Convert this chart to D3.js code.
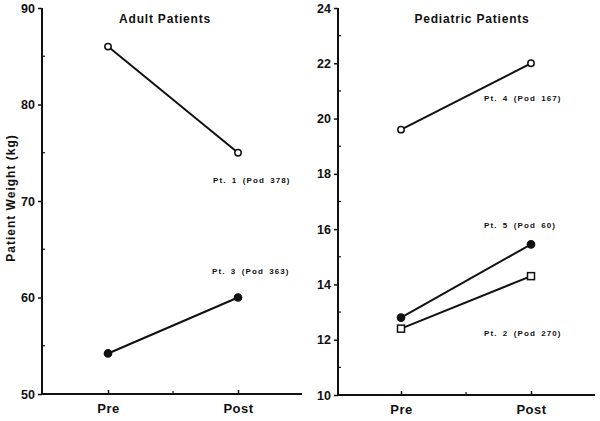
<!DOCTYPE html>
<html><head><meta charset="utf-8">
<script src="https://cdn.jsdelivr.net/npm/d3@7"></script>
<style>body{margin:0;background:#fff}text{font-family:"Liberation Sans",Arial,sans-serif;font-weight:bold;fill:#111}</style>
</head><body><svg id="c" width="600" height="421"></svg>
<script>
const categories = ["Pre", "Post"];
// Adult panel
const adultTicks = [50, 60, 70, 80, 90];
const adultPatients = ["Pt. 1 (Pod 378)", "Pt. 3 (Pod 363)"];
const adultValues = [[86, 75], [54.2, 60]];
const adultMarkers = ["openCircle", "filledCircle"];
// Pediatric panel
const pedTicks = [10, 12, 14, 16, 18, 20, 22, 24];
const pedPatients = ["Pt. 4 (Pod 167)", "Pt. 5 (Pod 60)", "Pt. 2 (Pod 270)"];
const pedValues = [[19.6, 22], [12.8, 15.45], [12.4, 14.3]];
const pedMarkers = ["openCircle", "filledCircle", "openSquare"];

const svg = d3.select("#c");

function panel(opt) {
  const g = svg.append("g");
  const x = d3.scalePoint().domain(categories).range([opt.x0 + opt.padL, opt.x0 + opt.padL + 130]);
  const y = d3.scaleLinear().domain(opt.domain).range([opt.bottom, opt.top]);
  const ya = d3.axisLeft(y).tickValues(opt.ticks).tickSize(4).tickPadding(3);
  const yg = g.append("g").attr("transform", `translate(${opt.x0},0)`).call(ya);
  yg.select(".domain").attr("stroke", "#111").attr("stroke-width", 2).attr("d", `M0,${opt.bottom}V${opt.top}`);
  yg.selectAll(".tick line").attr("stroke", "#111").attr("stroke-width", 1.5);
  yg.selectAll(".tick text").style("font-size", "12.5px").attr("fill", "#111");
  g.append("g").selectAll("line").data(opt.minor).join("line")
    .attr("x1", opt.x0).attr("x2", opt.x0 + 3).attr("y1", d => y(d)).attr("y2", d => y(d))
    .attr("stroke", "#111").attr("stroke-width", 1.2);
  const xa = d3.axisBottom(x).tickSize(-4).tickPadding(10);
  const xg = g.append("g").attr("transform", `translate(0,${opt.bottom})`).call(xa);
  xg.select(".domain").attr("stroke", "#111").attr("stroke-width", 2).attr("d", `M${opt.x0},0H${opt.x1}`);
  xg.selectAll(".tick line").attr("stroke", "#111").attr("stroke-width", 1.5);
  xg.selectAll(".tick text").style("font-size", "13px").style("letter-spacing", "0.5px").attr("fill", "#111");
  const mid = (x("Pre") + x("Post")) / 2;
  g.append("line").attr("x1", mid).attr("x2", mid).attr("y1", opt.bottom).attr("y2", opt.bottom - 3)
    .attr("stroke", "#111").attr("stroke-width", 1.2);
  g.append("text").attr("x", opt.titleX).attr("y", 23).attr("text-anchor", "middle")
    .style("font-size", "12px").style("letter-spacing", "0.8px").text(opt.title);
  const line = d3.line().x((d, i) => x(categories[i])).y(d => y(d));
  opt.values.forEach((vals, k) => {
    g.append("path").attr("d", line(vals)).attr("fill", "none").attr("stroke", "#111").attr("stroke-width", 2);
    vals.forEach((v, i) => {
      const cx = x(categories[i]), cy = y(v), m = opt.markers[k];
      if (m === "openSquare") {
        g.append("rect").attr("x", cx - 3.5).attr("y", cy - 3.5).attr("width", 7).attr("height", 7)
          .attr("fill", "#fff").attr("stroke", "#111").attr("stroke-width", 1.5);
      } else {
        g.append("circle").attr("cx", cx).attr("cy", cy).attr("r", m === "filledCircle" ? 3.6 : 3.2)
          .attr("fill", m === "filledCircle" ? "#111" : "#fff").attr("stroke", "#111").attr("stroke-width", 1.5);
      }
    });
  });
  opt.labels.forEach((t, k) => {
    g.append("text").attr("x", opt.labelPos[k][0]).attr("y", y(opt.labelPos[k][1]))
      .attr("dominant-baseline", "middle").style("font-size", "8px").style("letter-spacing", "1.1px")
      .style("word-spacing", "2px").text(t);
  });
}

panel({x0: 42, x1: 302, padL: 66, top: 8, bottom: 394, domain: [50, 90], ticks: adultTicks,
  minor: [55, 65, 75, 85], title: "Adult Patients", titleX: 165,
  values: adultValues, markers: adultMarkers, labels: adultPatients,
  labelPos: [[213, 72.1], [212, 62.7]]});

panel({x0: 338, x1: 595, padL: 63, top: 8, bottom: 395, domain: [10, 24], ticks: pedTicks,
  minor: [11, 13, 15, 17, 19, 21, 23], title: "Pediatric Patients", titleX: 472,
  values: pedValues, markers: pedMarkers, labels: pedPatients,
  labelPos: [[484, 20.7], [484, 16.1], [484, 12.2]]});

svg.append("text").attr("transform", "translate(12,198) rotate(-90)").attr("text-anchor", "middle")
  .attr("dominant-baseline", "middle").style("font-size", "12px").style("letter-spacing", "1px").text("Patient Weight (kg)");
</script></body></html>
